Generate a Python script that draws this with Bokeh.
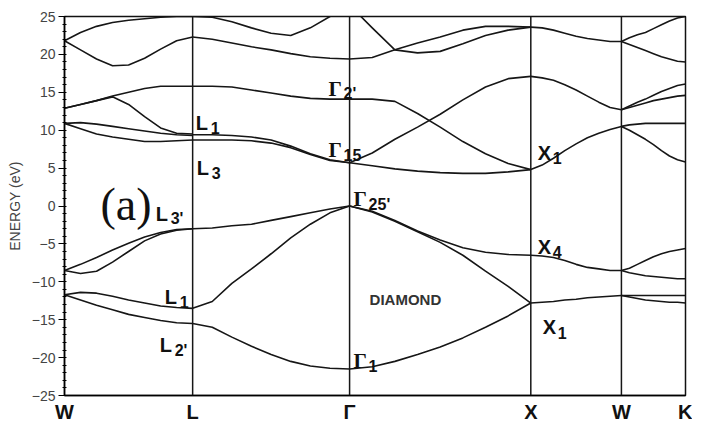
from bokeh.plotting import figure
from bokeh.models import Range1d, FixedTicker, Span, Label
from bokeh.embed import file_html
from bokeh.resources import INLINE
import numpy as np

# ---------------- data ----------------
point_names = ["W", "L", "Γ", "X", "W", "K"]
seg_lengths = [0.7071, 0.8660, 1.0, 0.5, 0.3536]   # path lengths (2π/a)
t_frac = [i / 8 for i in range(9)]                   # sample positions along each segment

# energies (eV) at t_frac along W -> L
bands_WL = [
    [-11.7, -12.4, -13.1, -13.7, -14.3, -14.7, -15.1, -15.4, -15.5],
    [-11.7, -11.4, -11.5, -11.9, -12.4, -12.8, -13.2, -13.4, -13.5],
    [-8.5, -7.7, -6.8, -5.8, -4.9, -4.1, -3.5, -3.1, -3.0],
    [-8.5, -8.9, -8.6, -7.4, -6.0, -4.6, -3.7, -3.2, -3.0],
    [10.9, 10.2, 9.5, 9.1, 8.8, 8.5, 8.5, 8.6, 8.7],
    [10.9, 11.0, 10.8, 10.5, 10.2, 9.9, 9.6, 9.4, 9.3],
    [12.9, 13.4, 13.9, 14.4, 13.4, 11.8, 10.3, 9.6, 9.5],
    [12.9, 13.4, 13.9, 14.5, 15.0, 15.5, 15.8, 15.8, 15.8],
    [21.8, 20.6, 19.4, 18.5, 18.6, 19.5, 20.7, 21.8, 22.3],
    [21.8, 22.9, 23.7, 24.2, 24.5, 24.7, 24.9, 25.0, 25.0],
]
# L -> Γ
bands_LG = [
    [-15.5, -16.0, -17.3, -18.5, -19.6, -20.5, -21.1, -21.4, -21.5],
    [-13.5, -12.6, -10.2, -8.3, -6.3, -4.2, -2.4, -0.9, 0.0],
    [-3.0, -2.9, -2.6, -2.4, -1.9, -1.4, -0.9, -0.4, 0.0],
    [8.7, 8.7, 8.7, 8.6, 8.3, 7.7, 6.8, 6.0, 5.7],
    [9.4, 9.4, 9.3, 9.1, 8.7, 7.9, 6.9, 6.1, 5.7],
    [15.8, 15.8, 15.7, 15.3, 14.9, 14.5, 14.2, 14.1, 14.1],
    [22.3, 22.0, 21.5, 21.0, 20.6, 20.1, 19.7, 19.5, 19.4],
    [25.0, 24.9, 24.3, 23.5, 22.8, 22.5, 23.5, 25.0, 26.5],
]
# Γ -> X
bands_GX = [
    [-21.5, -21.2, -20.5, -19.6, -18.6, -17.4, -16.0, -14.5, -12.8],
    [0.0, -0.7, -1.9, -3.3, -4.5, -5.5, -6.1, -6.4, -6.5],
    [0.0, -0.8, -2.0, -3.4, -4.8, -6.5, -8.6, -10.6, -12.8],
    [5.7, 5.3, 4.9, 4.6, 4.4, 4.3, 4.3, 4.5, 4.8],
    [5.7, 7.0, 8.8, 10.4, 12.1, 14.0, 15.7, 16.8, 17.1],
    [14.1, 14.1, 13.8, 12.2, 10.4, 8.5, 6.9, 5.6, 4.8],
    [19.4, 19.6, 20.6, 21.5, 22.3, 23.2, 23.7, 23.7, 23.6],
    [26.5, 23.5, 20.6, 20.2, 20.4, 21.4, 22.5, 23.2, 23.6],
]
# X -> W
bands_XW = [
    [-6.5, -6.6, -6.8, -7.2, -7.7, -8.1, -8.3, -8.5, -8.5],
    [-12.8, -12.7, -12.6, -12.4, -12.3, -12.1, -12.0, -11.9, -11.8],
    [4.8, 5.4, 6.3, 7.3, 8.2, 9.0, 9.6, 10.1, 10.5],
    [17.1, 16.9, 16.6, 16.0, 15.3, 14.5, 13.7, 13.0, 12.7],
    [23.6, 23.5, 23.2, 22.8, 22.4, 22.1, 21.9, 21.7, 21.7],
]
# W -> K
bands_WK = [
    [-8.5, -8.2, -7.7, -7.2, -6.7, -6.3, -6.0, -5.8, -5.6],
    [-8.5, -8.8, -9.0, -9.2, -9.3, -9.4, -9.5, -9.6, -9.6],
    [-11.8, -11.8, -11.8, -11.8, -11.8, -11.8, -11.8, -11.8, -11.8],
    [-11.8, -12.0, -12.2, -12.4, -12.5, -12.6, -12.7, -12.7, -12.8],
    [10.5, 10.7, 10.8, 10.9, 10.9, 10.9, 10.9, 10.9, 10.9],
    [10.5, 10.0, 9.4, 8.8, 8.1, 7.3, 6.6, 6.1, 5.8],
    [12.7, 13.0, 13.3, 13.6, 13.9, 14.1, 14.3, 14.5, 14.6],
    [12.7, 13.2, 13.7, 14.1, 14.6, 15.1, 15.5, 15.9, 16.1],
    [21.7, 21.3, 20.9, 20.5, 20.1, 19.7, 19.4, 19.1, 19.0],
    [21.7, 22.2, 22.6, 22.9, 23.4, 23.9, 24.4, 24.8, 25.0],
]

y_ticks = [-25, -20, -15, -10, -5, 0, 5, 10, 15, 20, 25]

# state labels: (symmetry point index, letter, subscript, energy)
state_labels = [
    (1, "L", "1", 11.0), (1, "L", "3", 5.0), (1, "L", "3'", -1.0),
    (1, "L", "1", -12.0), (1, "L", "2'", -18.4),
    (2, "Γ", "2'", 15.5), (2, "Γ", "15", 7.4), (2, "Γ", "25'", 0.9),
    (2, "Γ", "1", -20.4),
    (3, "X", "1", 7.0), (3, "X", "4", -5.4), (3, "X", "1", -16.0),
]
label_dx = [3, 4, -37, -28, -33, -21, -21, 4, 4, 7, 7, 12]

# ---------------- figure ----------------
k_pts = [0.0]
for s in seg_lengths:
    k_pts.append(round(k_pts[-1] + s, 4))

p = figure(width=692, height=425,
           x_range=Range1d(0, k_pts[-1]), y_range=Range1d(-25, 25),
           output_backend="svg", toolbar_location=None,
           min_border_left=64, min_border_right=7,
           min_border_top=16, min_border_bottom=28)
p.grid.visible = False
p.background_fill_color = "white"
p.border_fill_color = "white"
p.outline_line_color = "#111111"
p.outline_line_width = 1.5
p.outline_line_alpha = 1.0

xs, ys = [], []
for i, seg in enumerate([bands_WL, bands_LG, bands_GX, bands_XW, bands_WK]):
    k0, k1 = k_pts[i], k_pts[i + 1]
    kk = [k0 + t * (k1 - k0) for t in t_frac]
    for band in seg:
        xs.append(kk)
        ys.append([np.nan if e is None else e for e in band])
p.multi_line(xs, ys, line_color="#161616", line_width=1.6, line_join="round")

for k in k_pts[1:-1]:
    p.add_layout(Span(location=k, dimension="height", line_color="#161616", line_width=1.5))

# axes
p.xaxis.ticker = FixedTicker(ticks=k_pts)
p.xaxis.major_label_overrides = {k: n for k, n in zip(k_pts, point_names)}
p.xaxis.major_label_text_font = "Liberation Sans"
p.xaxis.major_label_text_font_style = "bold"
p.xaxis.major_label_text_font_size = "20px"
p.xaxis.major_label_text_color = "#111111"
p.xaxis.major_tick_out = 0
p.xaxis.major_tick_in = 0
p.xaxis.minor_tick_out = 0
p.xaxis.minor_tick_in = 0
p.xaxis.major_label_standoff = 5
p.xaxis.axis_line_width = 1.5

p.yaxis.ticker = FixedTicker(ticks=y_ticks, minor_ticks=list(range(-25, 26)))
p.yaxis.major_label_text_font = "Liberation Sans"
p.yaxis.major_label_text_font_size = "14px"
p.yaxis.major_label_text_color = "#444444"
p.yaxis.major_tick_out = 6
p.yaxis.major_tick_in = 0
p.yaxis.minor_tick_out = 2
p.yaxis.minor_tick_in = 2
p.yaxis.major_label_standoff = 3
p.yaxis.axis_line_width = 1.5
p.yaxis.axis_label = "ENERGY (eV)"
p.yaxis.axis_label_text_font = "Liberation Sans"
p.yaxis.axis_label_text_font_style = "normal"
p.yaxis.axis_label_text_font_size = "14px"
p.yaxis.axis_label_text_color = "#444444"
p.yaxis.axis_label_standoff = 6

# state labels
for (pi, base, sub, e), dx in zip(state_labels, label_dx):
    serif = base == "Γ"
    p.add_layout(Label(x=k_pts[pi], y=e, x_offset=dx, text=base,
                       text_font="Liberation Serif" if serif else "Liberation Sans",
                       text_font_style="bold", text_font_size="21px" if serif else "20px",
                       text_color="#111111", text_baseline="alphabetic"))
    p.add_layout(Label(x=k_pts[pi], y=e - 0.7, x_offset=dx + 15, text=sub,
                       text_font="Liberation Sans", text_font_style="bold",
                       text_font_size="16px", text_color="#111111",
                       text_baseline="alphabetic"))

p.add_layout(Label(x=k_pts[0], y=0.2, x_offset=36, text="(a)",
                   text_font="Liberation Serif", text_font_size="46px",
                   text_color="#111111", text_baseline="alphabetic"))
p.add_layout(Label(x=k_pts[2], y=-12.4, x_offset=20, text="DIAMOND",
                   text_font="Liberation Sans", text_font_style="bold",
                   text_font_size="15px", text_color="#333333",
                   text_baseline="alphabetic"))

open("out.html", "w").write(file_html(p, INLINE))
